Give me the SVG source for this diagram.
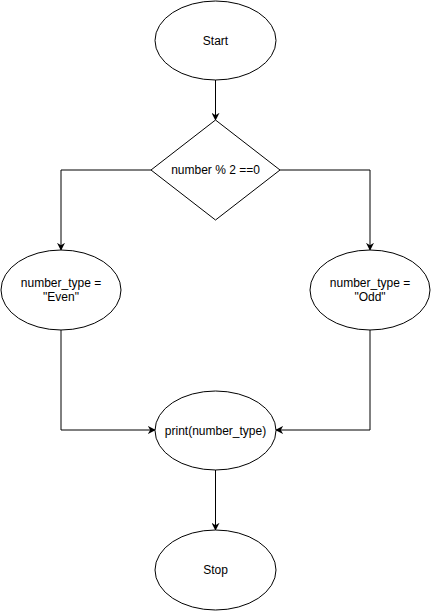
<svg xmlns="http://www.w3.org/2000/svg" width="431" height="611" viewBox="0 0 431 611">
<style>
.n{fill:#fff;stroke:#000;stroke-width:1}
.t{font-family:"Liberation Sans",Arial,sans-serif;font-size:12px;fill:#000;text-anchor:middle;dominant-baseline:central}
.c{fill:none;stroke:#000;stroke-width:1}
</style>
<defs>
<marker id="a" viewBox="0 0 10 10" refX="9" refY="5" markerWidth="8" markerHeight="8" markerUnits="userSpaceOnUse" orient="auto">
<path d="M0,0 L10,5 L0,10 L3,5 Z" fill="#000"/>
</marker>
</defs>
<rect width="431" height="611" fill="#fff"/>
<g id="connectors">
<path class="c" d="M215.5,80 V120" marker-end="url(#a)"/>
<path class="c" d="M151,170 H61 V250" marker-end="url(#a)"/>
<path class="c" d="M280,170 H370 V250" marker-end="url(#a)"/>
<path class="c" d="M61,330 V430 H155" marker-end="url(#a)"/>
<path class="c" d="M370,330 V430 H276" marker-end="url(#a)"/>
<path class="c" d="M215.5,470 V530" marker-end="url(#a)"/>
</g>
<g id="start"><ellipse class="n" cx="215.5" cy="40.5" rx="60.5" ry="39.5"/><text class="t" x="215.5" y="40.5">Start</text></g>
<g id="decision"><path class="n" d="M215.5,120 L280,170 L215.5,220 L151,170 Z"/><text class="t" x="215.5" y="170">number % 2 ==0</text></g>
<g id="even"><ellipse class="n" cx="61" cy="290" rx="60" ry="40"/><text class="t" x="61" y="283">number_type =</text><text class="t" x="61" y="297">"Even"</text></g>
<g id="odd"><ellipse class="n" cx="370" cy="290" rx="60" ry="40"/><text class="t" x="370" y="283">number_type =</text><text class="t" x="370" y="297">"Odd"</text></g>
<g id="print"><ellipse class="n" cx="215.5" cy="430.5" rx="60.5" ry="39.5"/><text class="t" x="215.5" y="430.5">print(number_type)</text></g>
<g id="stop"><ellipse class="n" cx="215.5" cy="570" rx="60.5" ry="40"/><text class="t" x="215.5" y="570">Stop</text></g>
</svg>
